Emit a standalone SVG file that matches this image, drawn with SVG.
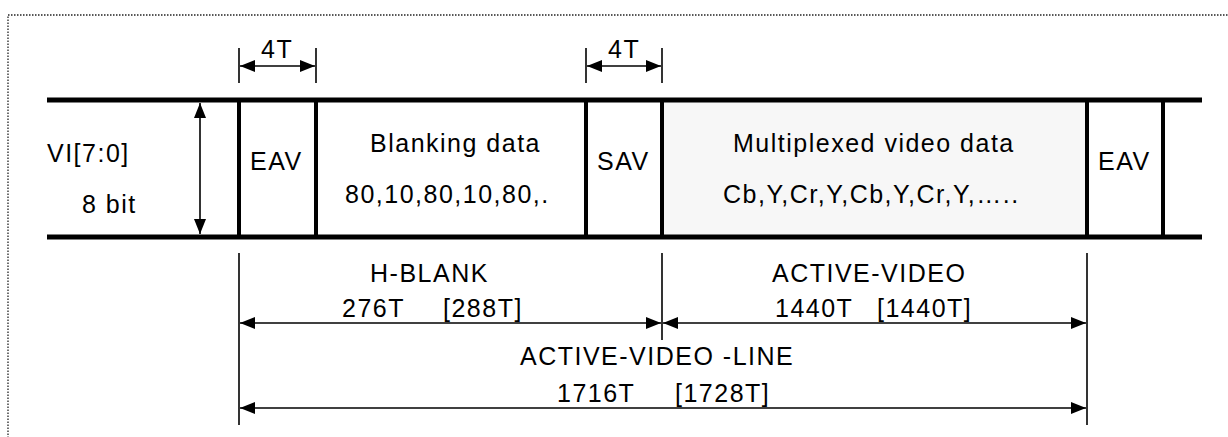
<svg xmlns="http://www.w3.org/2000/svg" width="1228" height="437" viewBox="0 0 1228 437">
<style>
text{font-family:"Liberation Sans",Arial,sans-serif;font-size:25px;fill:#000;letter-spacing:1.5px}
.bus{stroke:#000;stroke-width:5;fill:none}
.sep{stroke:#000;stroke-width:4;fill:none}
.thin{stroke:#000;stroke-width:1.6;fill:none}
.dim{stroke:#000;stroke-width:1.6;fill:none;marker-start:url(#ah);marker-end:url(#ah)}
</style>
<defs>
<marker id="ah" viewBox="0 0 15 12" refX="15" refY="6" markerWidth="15" markerHeight="12" markerUnits="userSpaceOnUse" orient="auto-start-reverse">
<path d="M0,0 L15,6 L0,12 Z" fill="#000"/>
</marker>
</defs>
<rect x="8" y="15" width="1240" height="440" fill="none" stroke="#222" stroke-width="1.3" stroke-dasharray="1.5,1.5"/>
<g id="bus">
<rect x="664" y="102" width="421" height="133" fill="#f7f7f7"/>
<line class="bus" x1="47" y1="100" x2="1202" y2="100"/>
<line class="bus" x1="47" y1="237" x2="1202" y2="237"/>
</g>
<g id="signal">
<text x="47" y="162">VI[7:0]</text>
<text x="82" y="213">8 bit</text>
</g>
<g id="eav1">
<line class="sep" x1="239" y1="100" x2="239" y2="237"/>
<line class="sep" x1="316" y1="100" x2="316" y2="237"/>
<text x="250" y="170">EAV</text>
</g>
<g id="blanking">
<text x="370" y="152">Blanking data</text>
<text x="345" y="203">80,10,80,10,80,.</text>
</g>
<g id="sav">
<line class="sep" x1="586" y1="100" x2="586" y2="237"/>
<line class="sep" x1="662" y1="100" x2="662" y2="237"/>
<text x="597" y="170">SAV</text>
</g>
<g id="video">
<text x="733" y="152">Multiplexed video data</text>
<text x="723" y="203">Cb,Y,Cr,Y,Cb,Y,Cr,Y,…..</text>
</g>
<g id="eav2">
<line class="sep" x1="1087" y1="100" x2="1087" y2="237"/>
<line class="sep" x1="1163" y1="100" x2="1163" y2="237"/>
<text x="1098" y="170">EAV</text>
</g>
<g id="connectors">
<line class="dim" x1="200" y1="103" x2="200" y2="234"/>
<line class="thin" x1="239" y1="48" x2="239" y2="83"/>
<line class="thin" x1="316" y1="48" x2="316" y2="83"/>
<line class="dim" x1="240" y1="66" x2="315" y2="66"/>
<line class="thin" x1="586" y1="48" x2="586" y2="83"/>
<line class="thin" x1="662" y1="48" x2="662" y2="83"/>
<line class="dim" x1="587" y1="66" x2="661" y2="66"/>
<line class="thin" x1="239" y1="253" x2="239" y2="425"/>
<line class="thin" x1="662" y1="253" x2="662" y2="340"/>
<line class="thin" x1="1087" y1="253" x2="1087" y2="425"/>
<line class="dim" x1="240" y1="323" x2="661" y2="323"/>
<line class="dim" x1="663" y1="323" x2="1086" y2="323"/>
<line class="dim" x1="240" y1="408" x2="1086" y2="408"/>
</g>
<g id="labels">
<text x="261" y="58">4T</text>
<text x="608" y="58">4T</text>
<text x="370" y="282">H-BLANK</text>
<text x="342" y="317">276T</text>
<text x="443" y="317">[288T]</text>
<text x="772" y="282">ACTIVE-VIDEO</text>
<text x="775" y="317">1440T</text>
<text x="877" y="317">[1440T]</text>
<text x="520" y="365">ACTIVE-VIDEO -LINE</text>
<text x="557" y="402">1716T</text>
<text x="675" y="402">[1728T]</text>
</g>
</svg>
